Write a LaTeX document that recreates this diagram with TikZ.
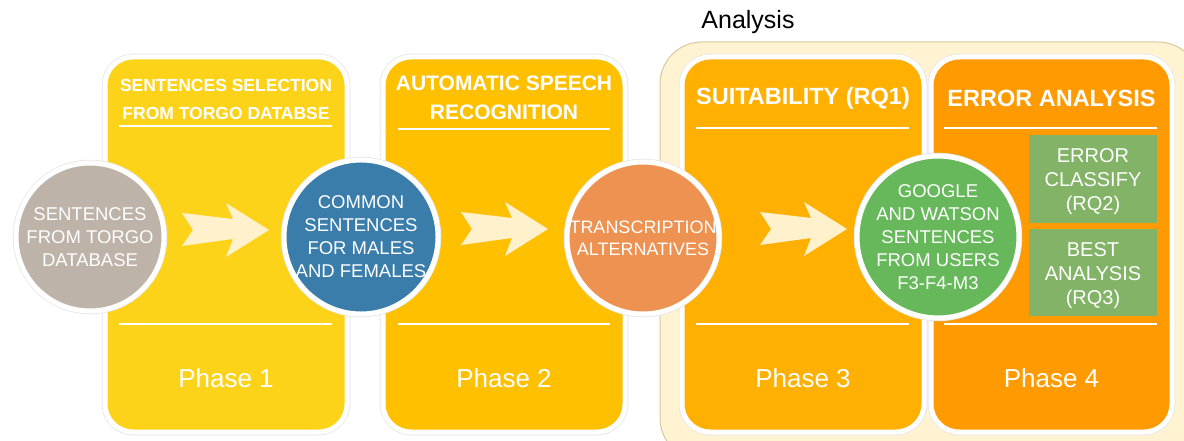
\documentclass[tikz,border=0pt]{standalone}
\usepackage{fontspec}
\setmainfont{Liberation Sans}
\definecolor{pone}{HTML}{FDD319}
\definecolor{ptwo}{HTML}{FFC000}
\definecolor{pthree}{HTML}{FFB000}
\definecolor{pfour}{HTML}{FF9A00}
\definecolor{framefill}{HTML}{FFF3D2}
\definecolor{frameedge}{HTML}{D8C8A0}
\definecolor{cgray}{HTML}{BDB3A8}
\definecolor{cblue}{HTML}{3A7DAA}
\definecolor{corange}{HTML}{EE9252}
\definecolor{cgreen}{HTML}{67B85B}
\definecolor{rgreen}{HTML}{82B366}
\definecolor{chev}{HTML}{FFF1CC}
\begin{document}
\begin{tikzpicture}[x=1pt,y=-1pt,
  phasebox/.style={rectangle,rounded corners=28pt,minimum width=242pt,minimum height=375pt,
    draw=white,line width=5pt,inner sep=0pt,
    preaction={draw=black!10,line width=6.5pt}},
  bubble/.style={circle,minimum size=152pt,inner sep=0pt,draw=white,line width=5pt,
    preaction={draw=black!10,line width=6.5pt},text=white,align=center,
    font=\fontsize{18.5}{23}\selectfont},
  rqbox/.style={rectangle,fill=rgreen,minimum width=128pt,inner sep=0pt},
  rqtext/.style={text=white,align=center,font=\fontsize{20}{24}\selectfont},
  headtext/.style={text=white,align=center,font=\bfseries},
  phasetext/.style={text=white,font=\fontsize{26}{30}\selectfont},
  sepline/.style={draw=white,line width=1.5pt},
  pics/chevron/.style={code={
    \fill[chev] (-87,-17) -- (-76,0) -- (-87,16) -- (-36,9) -- (-43,27) -- (0,0)
      -- (-43,-27) -- (-36,-11) -- cycle;}}
  ]
\useasboundingbox (0,0) rectangle (1184,441);
\clip (0,0) rectangle (1184,441);
\fill[white] (0,0) rectangle (1184,441);

% analysis frame
\draw[frameedge,fill=framefill,line width=1pt,rounded corners=42pt] (660,42) rectangle (1200,460);
\node[font=\fontsize{25}{30}\selectfont] (analysis) at (748,22) {Analysis};

% phase boxes
\node[phasebox,fill=pone] (p1) at (226,244.5) {};
\node[phasebox,fill=ptwo] (p2) at (504,244.5) {};
\node[phasebox,fill=pthree] (p3) at (803,244.5) {};
\node[phasebox,fill=pfour,minimum width=241pt] (p4) at (1051.5,244.5) {};

% separator lines
\draw[sepline] (119,126) -- (332,126);
\draw[sepline] (119,324) -- (332,324);
\draw[sepline] (398,129) -- (610,129);
\draw[sepline] (398,324) -- (610,324);
\draw[sepline] (696,128) -- (909,128);
\draw[sepline] (696,324) -- (909,324);
\draw[sepline] (944,128) -- (1157,128);
\draw[sepline] (944,324) -- (1157,324);

% headers
\node[headtext,font=\bfseries\fontsize{17.5}{28}\selectfont] (h1) at (226,99) {SENTENCES SELECTION\\FROM TORGO DATABSE};
\node[headtext,font=\bfseries\fontsize{21}{29}\selectfont] (h2) at (504,97.5) {AUTOMATIC SPEECH\\RECOGNITION};
\node[headtext,font=\bfseries\fontsize{23.5}{28}\selectfont] (h3) at (803,98) {SUITABILITY (RQ1)};
\node[headtext,font=\bfseries\fontsize{23.5}{28}\selectfont] (h4) at (1051.5,98) {ERROR ANALYSIS};

% phase labels
\node[phasetext] (t1) at (226,378) {Phase 1};
\node[phasetext] (t2) at (504,378) {Phase 2};
\node[phasetext] (t3) at (803,378) {Phase 3};
\node[phasetext] (t4) at (1051.5,378) {Phase 4};

% chevrons
\pic at (269,230) {chevron};
\pic at (548,229) {chevron};
\pic at (847,229) {chevron};

% circles
\node[bubble,fill=cgray,minimum size=148pt] (c1) at (90,237) {SENTENCES\\FROM TORGO\\DATABASE};
\node[bubble,fill=cblue] (c2) at (361,237) {COMMON\\SENTENCES\\FOR MALES\\AND FEMALES};
\node[bubble,fill=corange,font=\fontsize{18}{22}\selectfont] (c3) at (643,238) {TRANSCRIPTION\\ALTERNATIVES};
\node[bubble,fill=cgreen,minimum size=154pt] (c4) at (938,237) {GOOGLE\\AND WATSON\\SENTENCES\\FROM USERS\\F3-F4-M3};

% RQ boxes
\node[rqbox,minimum height=88pt] (rq2) at (1093,179) {};
\node[rqtext] (rq2t) at (1093,182) {ERROR\\CLASSIFY\\(RQ2)};
\node[rqbox,minimum height=87pt] (rq3) at (1093,272.5) {};
\node[rqtext] (rq3t) at (1093,275.5) {BEST\\ANALYSIS\\(RQ3)};
\end{tikzpicture}
\end{document}
